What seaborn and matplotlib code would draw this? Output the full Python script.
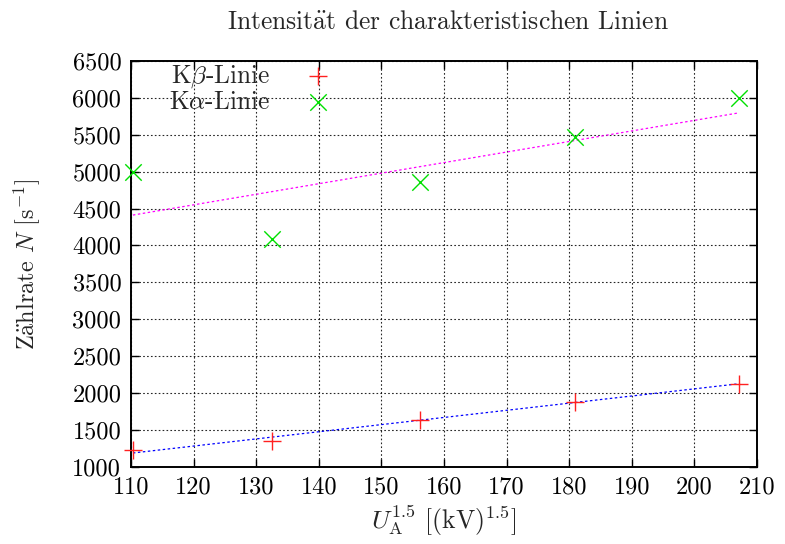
import numpy as np
import pandas as pd
import matplotlib
matplotlib.use("Agg")
import matplotlib.pyplot as plt
import seaborn as sns

# Anodenspannung U_A in kV, aufgetragen als U_A^1.5
u_a = np.array([23, 26, 29, 32, 35])
x_vals = [110.3, 132.6, 156.2, 181.0, 207.1]

# Zählraten der charakteristischen Linien
n_kbeta = [1223, 1346, 1640, 1881, 2127]
n_kalpha = [5000, 4090, 4860, 5475, 6005]

x_ticks = [110, 120, 130, 140, 150, 160, 170, 180, 190, 200, 210]
y_ticks = [1000, 1500, 2000, 2500, 3000, 3500, 4000, 4500, 5000, 5500, 6000, 6500]

FS = 17.5

sns.set_theme(style="white")
plt.rcParams["font.family"] = ["cmr10", "DejaVu Serif"]
plt.rcParams["mathtext.fontset"] = "cm"
plt.rcParams["axes.formatter.use_mathtext"] = True
plt.rcParams["axes.unicode_minus"] = False

fig = plt.figure(figsize=(7.85, 5.44), dpi=100)
ax = fig.add_axes([0.1669, 0.142, 0.7974, 0.7459])

df_b = pd.DataFrame({"x": x_vals, "N": n_kbeta})
df_a = pd.DataFrame({"x": x_vals, "N": n_kalpha})

# lineare Regression für beide Linien
fit_b = np.polyfit(df_b["x"], df_b["N"], 1)
fit_a = np.polyfit(df_a["x"], df_a["N"], 1)
xf = np.array([x_vals[0], x_vals[-1]])
df_fb = pd.DataFrame({"x": xf, "N": np.polyval(fit_b, xf)})
df_fa = pd.DataFrame({"x": xf, "N": np.polyval(fit_a, xf)})

sns.scatterplot(data=df_b, x="x", y="N", ax=ax, marker="+", s=170,
                color="#ff2020", linewidth=1.0, label=r"K$\beta$-Linie",
                zorder=4, clip_on=False)
sns.scatterplot(data=df_a, x="x", y="N", ax=ax, marker="x", s=140,
                color="#00e000", linewidth=1.0, label=r"K$\alpha$-Linie",
                zorder=4, clip_on=False)
sns.lineplot(data=df_fb, x="x", y="N", ax=ax, color="#0000ff", lw=0.9,
             linestyle=(0, (2, 2)), zorder=3, legend=False)
sns.lineplot(data=df_fa, x="x", y="N", ax=ax, color="#ff00ff", lw=0.9,
             linestyle=(0, (2, 2)), zorder=3, legend=False)

ax.set_xlim(110, 210)
ax.set_ylim(1000, 6500)
ax.set_xticks(x_ticks)
ax.set_yticks(y_ticks)
ax.set_xticklabels([str(t) for t in x_ticks])
ax.set_yticklabels([str(t) for t in y_ticks])

ax.grid(True, color="black", linestyle=(0, (1.5, 2.0)), linewidth=0.8, alpha=0.85)
ax.set_axisbelow(True)
for sp in ax.spines.values():
    sp.set_visible(True)
    sp.set_color("black")
    sp.set_linewidth(1.4)
ax.tick_params(direction="in", length=6, width=1.0, top=True, right=True,
               bottom=True, left=True, labelsize=FS, colors="black", pad=7)

ax.set_title(r"Intensit$\ddot{\mathrm{a}}$t der charakteristischen Linien",
             fontsize=18.4, pad=23, x=0.506)
ax.set_xlabel(r"$U_{\rm A}^{1.5}$ [(kV)$^{1.5}$]", fontsize=18.5, labelpad=4)
ax.set_ylabel(r"Z$\ddot{\mathrm{a}}$hlrate $N$ [s$^{-1}$]", fontsize=FS,
              labelpad=21)

leg = ax.legend(loc="upper left", frameon=False, markerfirst=False, fontsize=18.3,
                handletextpad=0.9, borderaxespad=0.1, labelspacing=0.0,
                bbox_to_anchor=(0.04, 1.025))

fig.savefig("out.png", dpi=100)
